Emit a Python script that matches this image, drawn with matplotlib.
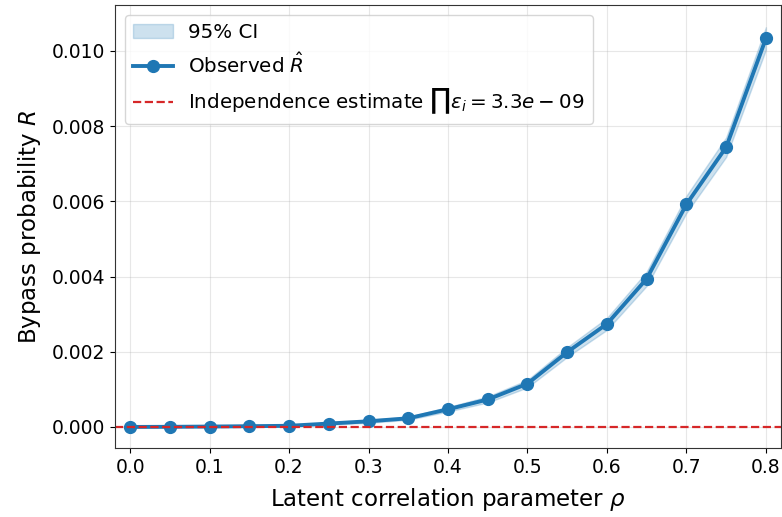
import matplotlib
matplotlib.use("Agg")
import matplotlib.pyplot as plt
import numpy as np

rho = [0.0, 0.05, 0.1, 0.15, 0.2, 0.25, 0.3, 0.35, 0.4, 0.45, 0.5, 0.55, 0.6, 0.65, 0.7, 0.75, 0.8]
r_hat = [0.0, 0.000003, 0.00001, 0.00002, 0.00003, 0.00009, 0.00015, 0.00023, 0.00047,
         0.00073, 0.00115, 0.00199, 0.00274, 0.00394, 0.00592, 0.00744, 0.01033]
ci_low = [0.0, 0.0, 0.000002, 0.00001, 0.00002, 0.00006, 0.00011, 0.00019, 0.00041,
          0.00065, 0.00105, 0.00186, 0.00258, 0.00375, 0.00569, 0.00718, 0.01003]
ci_high = [0.000004, 0.00001, 0.000018, 0.00003, 0.00004, 0.00012, 0.00019, 0.00027, 0.00053,
           0.00081, 0.00125, 0.00212, 0.0029, 0.00413, 0.00615, 0.0077, 0.01063]
indep = 3.3e-9

fig = plt.figure(figsize=(7.82, 5.17), dpi=100)
ax = fig.add_axes([115/782, 1 - 448/517, (781 - 115)/782, (448 - 5)/517])

ax.fill_between(rho, ci_low, ci_high, color="#1f77b4", alpha=0.22, label="95% CI")
ax.plot(rho, r_hat, "-o", color="#1f77b4", lw=2.8, ms=8.5, label=r"Observed $\hat{R}$")
ax.axhline(indep, color="#d62728", ls="--", lw=1.6,
           label=r"Independence estimate $\prod\varepsilon_i = 3.3e-09$")

ax.set_xlim(-0.019, 0.819)
ax.set_ylim(-0.00056, 0.01122)
ax.set_xticks(np.arange(0, 0.81, 0.1))
ax.set_yticks(np.arange(0, 0.0101, 0.002))
ax.xaxis.set_major_formatter(matplotlib.ticker.FormatStrFormatter("%.1f"))
ax.yaxis.set_major_formatter(matplotlib.ticker.FormatStrFormatter("%.3f"))
ax.tick_params(labelsize=13.5)
ax.grid(True, alpha=0.3)
for s in ax.spines.values():
    s.set_color("#333333")
ax.set_xlabel(r"Latent correlation parameter $\rho$", fontsize=16.5, labelpad=7)
ax.set_ylabel(r"Bypass probability $R$", fontsize=16.5, labelpad=6)
ax.legend(loc="upper left", fontsize=14.3)

fig.savefig("out.png", dpi=100)
